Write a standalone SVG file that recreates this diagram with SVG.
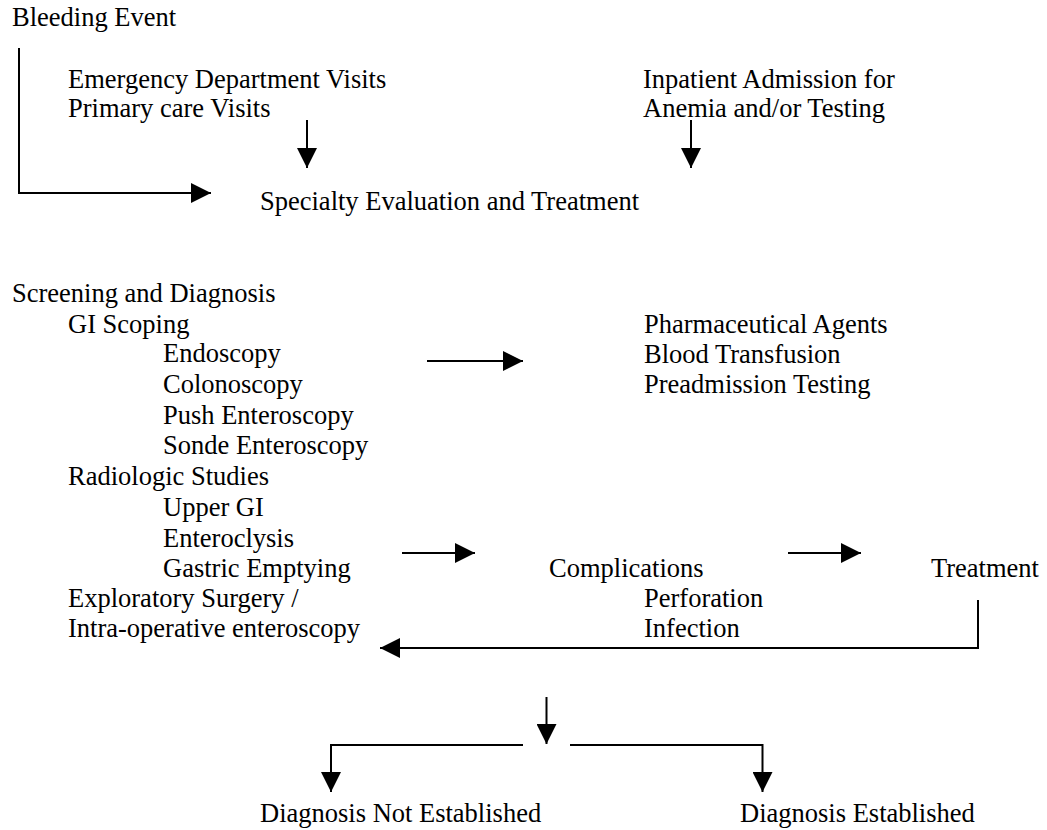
<svg xmlns="http://www.w3.org/2000/svg" width="1047" height="830" viewBox="0 0 1047 830">
<style>
text{font-family:"Liberation Serif","Times New Roman",serif;font-size:26.5px;fill:#000}
.c{fill:none;stroke:#000;stroke-width:2}
</style>
<defs>
<marker id="ah" markerUnits="userSpaceOnUse" markerWidth="20" markerHeight="20" refX="20" refY="10" orient="auto">
<path d="M0,0 L20,10 L0,20 z" fill="#000"/>
</marker>
</defs>
<rect width="1047" height="830" fill="#fff"/>
<g id="bleeding"><text x="12" y="26">Bleeding Event</text></g>
<g id="visits"><text x="68" y="88">Emergency Department Visits</text><text x="68" y="117">Primary care Visits</text></g>
<g id="inpatient"><text x="643" y="88">Inpatient Admission for</text><text x="643" y="117">Anemia and/or Testing</text></g>
<g id="specialty"><text x="260" y="210">Specialty Evaluation and Treatment</text></g>
<g id="screening">
<text x="12" y="302">Screening and Diagnosis</text>
<text x="68" y="333">GI Scoping</text>
<text x="163" y="362">Endoscopy</text>
<text x="163" y="393">Colonoscopy</text>
<text x="163" y="424">Push Enteroscopy</text>
<text x="163" y="454">Sonde Enteroscopy</text>
<text x="68" y="485">Radiologic Studies</text>
<text x="163" y="516">Upper GI</text>
<text x="163" y="547">Enteroclysis</text>
<text x="163" y="577">Gastric Emptying</text>
<text x="68" y="607">Exploratory Surgery /</text>
<text x="68" y="637">Intra-operative enteroscopy</text>
</g>
<g id="pharma"><text x="644" y="333">Pharmaceutical Agents</text><text x="644" y="363">Blood Transfusion</text><text x="644" y="393">Preadmission Testing</text></g>
<g id="complications"><text x="549" y="577">Complications</text><text x="644" y="607">Perforation</text><text x="644" y="637">Infection</text></g>
<g id="treatment"><text x="931" y="577">Treatment</text></g>
<g id="not-established"><text x="260" y="822">Diagnosis Not Established</text></g>
<g id="established"><text x="740" y="822">Diagnosis Established</text></g>
<g id="connectors">
<path class="c" d="M19,48 V193 H211" marker-end="url(#ah)"/>
<path class="c" d="M307,120 V168" marker-end="url(#ah)"/>
<path class="c" d="M691,120 V168" marker-end="url(#ah)"/>
<path class="c" d="M427,361 H523" marker-end="url(#ah)"/>
<path class="c" d="M402,553 H475" marker-end="url(#ah)"/>
<path class="c" d="M788,553 H861" marker-end="url(#ah)"/>
<path class="c" d="M978,600 V648 H380" marker-end="url(#ah)"/>
<path class="c" d="M546.5,697 V744" marker-end="url(#ah)"/>
<path class="c" d="M523,745 H331 V792" marker-end="url(#ah)"/>
<path class="c" d="M570,745 H762.5 V792" marker-end="url(#ah)"/>
</g>
</svg>
